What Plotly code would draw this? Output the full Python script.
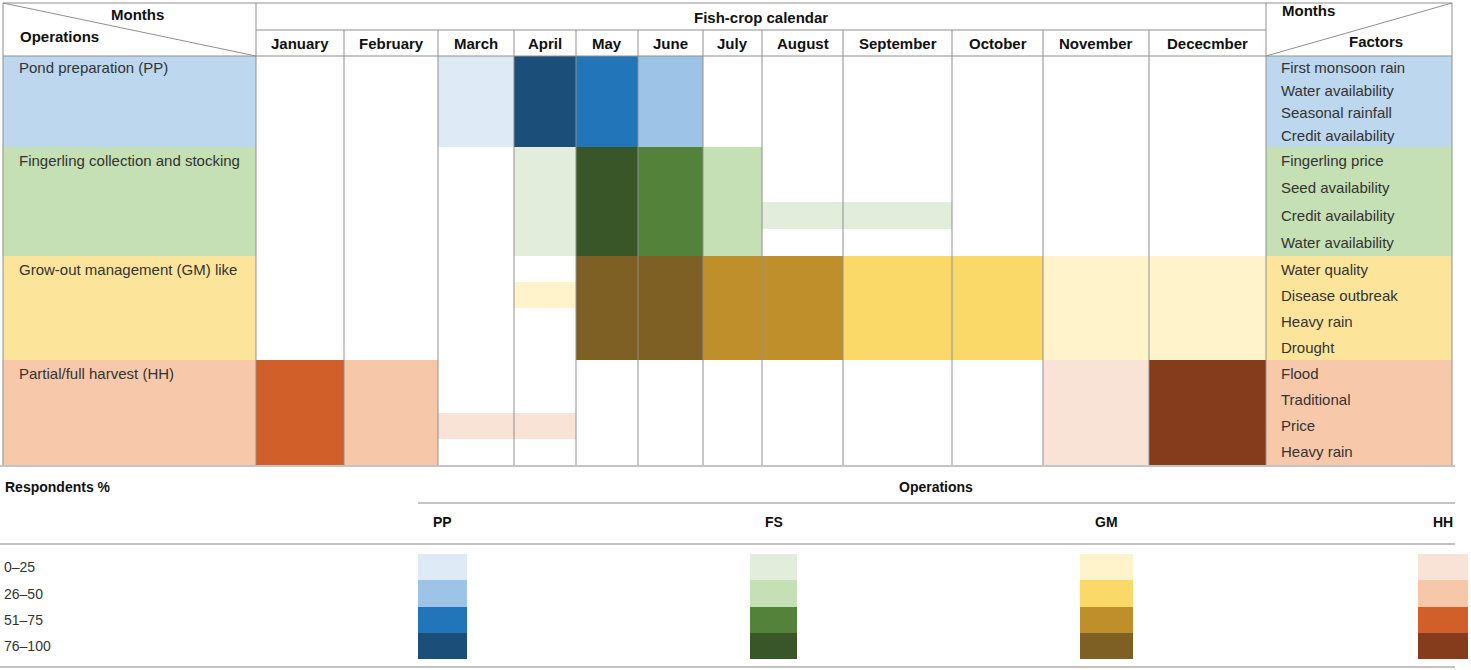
import plotly.graph_objs as go

# --- data -----------------------------------------------------------------
months = ["January", "February", "March", "April", "May", "June", "July",
          "August", "September", "October", "November", "Dececmber"]

operations = ["Pond preparation (PP)", "Fingerling collection and stocking",
              "Grow-out management (GM) like", "Partial/full harvest (HH)"]
op_codes = ["PP", "FS", "GM", "HH"]

factors_pp = ["First monsoon rain", "Water availability", "Seasonal rainfall", "Credit availability"]
factors_fs = ["Fingerling price", "Seed availability", "Credit availability", "Water availability"]
factors_gm = ["Water quality", "Disease outbreak", "Heavy rain", "Drought"]
factors_hh = ["Flood", "Traditional", "Price", "Heavy rain"]

# respondent level per sub-row (4) and month (12): 0 none, 1 = 0-25 ... 4 = 76-100
levels_pp = [
    [0, 0, 1, 4, 3, 2, 0, 0, 0, 0, 0, 0],
    [0, 0, 1, 4, 3, 2, 0, 0, 0, 0, 0, 0],
    [0, 0, 1, 4, 3, 2, 0, 0, 0, 0, 0, 0],
    [0, 0, 1, 4, 3, 2, 0, 0, 0, 0, 0, 0],
]
levels_fs = [
    [0, 0, 0, 1, 4, 3, 2, 0, 0, 0, 0, 0],
    [0, 0, 0, 1, 4, 3, 2, 0, 0, 0, 0, 0],
    [0, 0, 0, 1, 4, 3, 2, 1, 1, 0, 0, 0],
    [0, 0, 0, 1, 4, 3, 2, 0, 0, 0, 0, 0],
]
levels_gm = [
    [0, 0, 0, 0, 4, 4, 3, 3, 2, 2, 1, 1],
    [0, 0, 0, 1, 4, 4, 3, 3, 2, 2, 1, 1],
    [0, 0, 0, 0, 4, 4, 3, 3, 2, 2, 1, 1],
    [0, 0, 0, 0, 4, 4, 3, 3, 2, 2, 1, 1],
]
levels_hh = [
    [3, 2, 0, 0, 0, 0, 0, 0, 0, 0, 1, 4],
    [3, 2, 0, 0, 0, 0, 0, 0, 0, 0, 1, 4],
    [3, 2, 1, 1, 0, 0, 0, 0, 0, 0, 1, 4],
    [3, 2, 0, 0, 0, 0, 0, 0, 0, 0, 1, 4],
]

respondent_bands = ["0–25", "26–50", "51–75", "76–100"]

# --- styles / layout geometry (pixel space) --------------------------------
W, H = 1471, 670
FONT = "Liberation Sans"
level_colors = {
    "PP": ["#deeaf6", "#9dc3e6", "#2275b8", "#1b4f79"],
    "FS": ["#e2eddb", "#c5e0b4", "#53823b", "#385628"],
    "GM": ["#fff3cc", "#fbd968", "#bf8f2c", "#7f6024"],
    "HH": ["#f9e3d7", "#f6c8a9", "#d05f2a", "#843c1c"],
}
bg_colors = {"PP": "#bdd7ee", "FS": "#c5e0b4", "GM": "#fce59a", "HH": "#f7c9aa"}

x_left, x_right = 3, 1452
col_edges = [256, 344, 438, 514, 576, 638, 703, 762, 843, 952, 1043, 1149, 1266]
y_top, y_mid, y_head = 3, 30, 56
row_edges = [56, 147, 256, 360, 465]
grid = "#8f8f8f"
rule = "#c4c4c4"

legend_x = {"PP": (418, 467), "FS": (750, 797), "GM": (1080, 1133), "HH": (1418, 1468)}
legend_y = [554, 580, 607, 633, 659]


def scale_for(code):
    c = level_colors[code]
    return [[0, c[0]], [0.25, c[0]], [0.25, c[1]], [0.5, c[1]],
            [0.5, c[2]], [0.75, c[2]], [0.75, c[3]], [1, c[3]]]


def main():
    fig = go.Figure()
    shapes = []
    notes = []

    def text(x, y, s, anchor="left", bold=False, size=15, color="#333333"):
        notes.append(dict(x=x, y=y, xref="x", yref="y", text=f"<b>{s}</b>" if bold else s,
                          showarrow=False, xanchor=anchor, yanchor="middle",
                          font=dict(family=FONT, size=size, color="#111111" if bold else color)))

    def line(x0, y0, x1, y1, color=grid, width=1):
        shapes.append(dict(type="line", x0=x0, y0=y0, x1=x1, y1=y1, xref="x", yref="y",
                           line=dict(color=color, width=width)))

    all_levels = [levels_pp, levels_fs, levels_gm, levels_hh]
    all_factors = [factors_pp, factors_fs, factors_gm, factors_hh]

    for i, code in enumerate(op_codes):
        y0, y1 = row_edges[i], row_edges[i + 1]
        sub = [y0 + (y1 - y0) * k / 4 for k in range(5)]
        # operation / factor background cells
        for xa, xb in [(x_left, col_edges[0]), (col_edges[-1], x_right)]:
            shapes.append(dict(type="rect", x0=xa, x1=xb, y0=y0, y1=y1, xref="x", yref="y",
                               fillcolor=bg_colors[code], line=dict(width=0), layer="below"))
        z = [[v if v else None for v in r] for r in all_levels[i]]
        fig.add_trace(go.Heatmap(z=z, x=col_edges, y=sub, zmin=0.5, zmax=4.5,
                                 colorscale=scale_for(code), showscale=False,
                                 hoverinfo="skip"))
        text(x_left + 14, (sub[0] + sub[1]) / 2, operations[i])
        for k, f in enumerate(all_factors[i]):
            text(col_edges[-1] + 13, (sub[k] + sub[k + 1]) / 2, f)

        # legend swatch
        lx0, lx1 = legend_x[code]
        fig.add_trace(go.Heatmap(z=[[1], [2], [3], [4]], x=[lx0, lx1], y=legend_y,
                                 zmin=0.5, zmax=4.5, colorscale=scale_for(code),
                                 showscale=False, hoverinfo="skip"))
        text((lx0 + lx1) / 2, 522, code, anchor="center", bold=True, size=14)

    # header texts
    text(137, 14, "Months", anchor="center", bold=True)
    text(18, 36, "Operations", bold=True)
    text((col_edges[0] + col_edges[-1]) / 2, 17, "Fish-crop calendar", anchor="center", bold=True)
    for j, m in enumerate(months):
        text((col_edges[j] + col_edges[j + 1]) / 2, 43, m, anchor="center", bold=True)
    text(1280, 10, "Months", bold=True)
    text(1405, 41, "Factors", anchor="right", bold=True)

    # grid lines
    line(x_left, y_top, x_right, y_top)
    line(col_edges[0], y_mid, col_edges[-1], y_mid)
    line(x_left, y_head, x_right, y_head)
    line(x_left, y_top, x_left, row_edges[-1])
    line(x_right, y_top, x_right, row_edges[-1])
    line(col_edges[0], y_top, col_edges[0], row_edges[-1])
    line(col_edges[-1], y_top, col_edges[-1], row_edges[-1])
    for xe in col_edges[1:-1]:
        line(xe, y_mid, xe, row_edges[-1])
    line(x_left, y_top, col_edges[0], y_head)
    line(col_edges[-1], y_head, x_right, y_top)

    # legend block
    line(0, 466, 1455, 466, rule, 2)
    text(3, 487, "Respondents %", bold=True, size=14)
    text(936, 487, "Operations", anchor="center", bold=True, size=14)
    line(418, 503, 1455, 503, rule, 2)
    line(0, 544, 1455, 544, rule, 2)
    line(0, 667, 1455, 667, rule, 2)
    for k, band in enumerate(respondent_bands):
        text(2, (legend_y[k] + legend_y[k + 1]) / 2, band, size=14)

    fig.update_layout(
        width=W, height=H, autosize=False,
        margin=dict(l=0, r=0, t=0, b=0),
        paper_bgcolor="white", plot_bgcolor="white",
        xaxis=dict(range=[0, W], visible=False, fixedrange=True),
        yaxis=dict(range=[H, 0], visible=False, fixedrange=True),
        shapes=shapes, annotations=notes, showlegend=False,
    )
    # page body has a default 8px margin; drop it so the figure sits at the origin
    fig.write_html("out.html", config={"displayModeBar": False},
                   post_script="document.body.style.margin='0';document.body.style.overflow='hidden';")


if __name__ == "__main__":
    main()
